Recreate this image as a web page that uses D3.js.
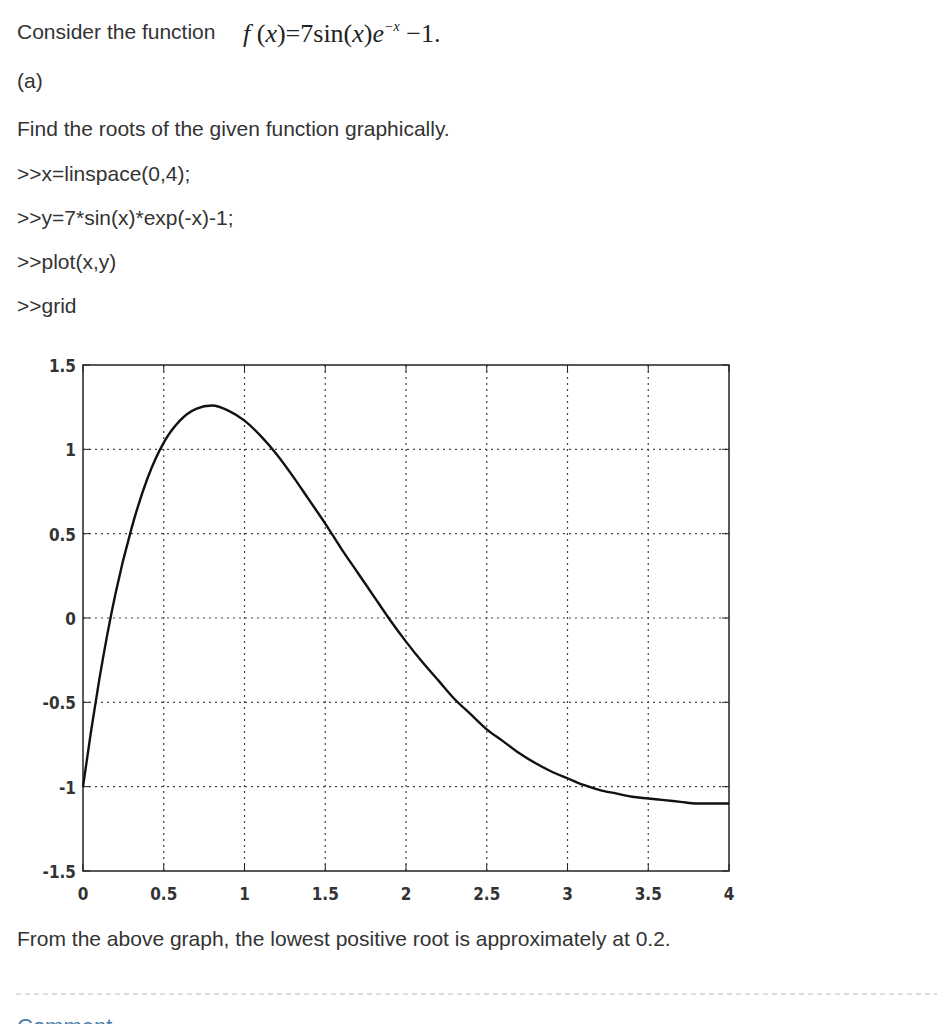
<!DOCTYPE html>
<html><head><meta charset="utf-8">
<script src="https://cdn.jsdelivr.net/npm/d3@7"></script>
<style>
body{margin:0;background:#fff;color:#333;}
</style></head><body>
<svg id="c" width="937" height="1024"></svg>
<script>
const xVals=[0,0.05,0.1,0.15,0.2,0.3,0.4,0.5,0.6,0.7,0.8,0.9,1.0,1.1,1.2,1.3,1.4,1.5,1.6,1.7,1.8,1.9,2.0,2.1,2.2,2.3,2.4,2.5,2.6,2.7,2.8,2.9,3.0,3.1,3.2,3.3,3.4,3.5,3.6,3.7,3.8,3.9,4.0];
const yVals=[-1,-0.67,-0.37,-0.10,0.14,0.53,0.83,1.04,1.17,1.24,1.26,1.23,1.17,1.08,0.97,0.84,0.70,0.56,0.41,0.27,0.13,-0.01,-0.14,-0.26,-0.37,-0.48,-0.57,-0.66,-0.73,-0.80,-0.86,-0.91,-0.95,-0.99,-1.02,-1.04,-1.06,-1.07,-1.08,-1.09,-1.10,-1.10,-1.10];
const xTicks=[0,0.5,1,1.5,2,2.5,3,3.5,4];
const yTicks=[-1.5,-1,-0.5,0,0.5,1,1.5];
const xTickLabels=["0","0.5","1","1.5","2","2.5","3","3.5","4"];
const yTickLabels=["-1.5","-1","-0.5","0","0.5","1","1.5"];
const lines=[
 {t:"(a)",y:88},
 {t:"Find the roots of the given function graphically.",y:136},
 {t:">>x=linspace(0,4);",y:181},
 {t:">>y=7*sin(x)*exp(-x)-1;",y:225},
 {t:">>plot(x,y)",y:269},
 {t:">>grid",y:313},
 {t:"From the above graph, the lowest positive root is approximately at 0.2.",y:946}
];
const SANS="Liberation Sans, Arial, sans-serif";
const svg=d3.select("#c");
svg.append("text").attr("x",17).attr("y",39).attr("font-family",SANS).attr("font-size",21).attr("fill","#333").text("Consider the function");
const m=svg.append("text").attr("x",243).attr("y",42).attr("font-family","Liberation Serif, serif").attr("font-size",26).attr("fill","#222");
m.append("tspan").attr("font-style","italic").text("f");
m.append("tspan").text(" (");
m.append("tspan").attr("font-style","italic").text("x");
m.append("tspan").text(")=7sin(");
m.append("tspan").attr("font-style","italic").text("x");
m.append("tspan").text(")");
m.append("tspan").attr("font-style","italic").text("e");
m.append("tspan").attr("font-size",14).attr("dy",-11).attr("font-style","italic").text("−x");
m.append("tspan").attr("dy",11).text(" −1.");
svg.selectAll("text.l").data(lines).join("text").attr("class","l").attr("x",17).attr("y",d=>d.y)
 .attr("font-family",SANS).attr("font-size",21).attr("fill","#333").text(d=>d.t);
svg.append("line").attr("x1",16).attr("x2",937).attr("y1",994).attr("y2",994).attr("stroke","#bbb").attr("stroke-dasharray","5,4");
svg.append("text").attr("x",17).attr("y",1034).attr("font-family",SANS).attr("font-size",22).attr("fill","#4a7eab").text("Comment");
// chart
const L=83,R=729,T=365,B=871;
const x=d3.scaleLinear().domain([0,4]).range([L,R]);
const y=d3.scaleLinear().domain([-1.5,1.5]).range([B,T]);
const g=svg.append("g");
g.selectAll("line.gx").data(xTicks.slice(1,-1)).join("line").attr("x1",d=>x(d)).attr("x2",d=>x(d)).attr("y1",T).attr("y2",B)
 .attr("stroke","#444").attr("stroke-width",1.2).attr("stroke-dasharray","2,4");
g.selectAll("line.gy").data(yTicks.slice(1,-1)).join("line").attr("y1",d=>y(d)).attr("y2",d=>y(d)).attr("x1",L).attr("x2",R)
 .attr("stroke","#444").attr("stroke-width",1.2).attr("stroke-dasharray","2,4");
g.append("rect").attr("x",L).attr("y",T).attr("width",R-L).attr("height",B-T).attr("fill","none").attr("stroke","#222").attr("stroke-width",1.5);
g.selectAll("line.tx").data(xTicks).join("line").attr("x1",d=>x(d)).attr("x2",d=>x(d)).attr("y1",B).attr("y2",B-7).attr("stroke","#222");
g.selectAll("line.tx2").data(xTicks).join("line").attr("x1",d=>x(d)).attr("x2",d=>x(d)).attr("y1",T).attr("y2",T+7).attr("stroke","#222");
g.selectAll("line.ty").data(yTicks).join("line").attr("y1",d=>y(d)).attr("y2",d=>y(d)).attr("x1",L).attr("x2",L+7).attr("stroke","#222");
g.selectAll("line.ty2").data(yTicks).join("line").attr("y1",d=>y(d)).attr("y2",d=>y(d)).attr("x1",R).attr("x2",R-7).attr("stroke","#222");
const TF="DejaVu Sans Condensed, DejaVu Sans, sans-serif";
g.selectAll("text.xl").data(xTicks).join("text").attr("x",d=>x(d)).attr("y",B+29).attr("text-anchor","middle")
 .attr("font-family",TF).attr("font-weight","bold").attr("font-size",17).attr("fill","#333")
 .text((d,i)=>xTickLabels[i]);
g.selectAll("text.yl").data(yTicks).join("text").attr("x",L-7).attr("y",d=>y(d)+7).attr("text-anchor","end")
 .attr("font-family",TF).attr("font-weight","bold").attr("font-size",17).attr("fill","#333")
 .text((d,i)=>yTickLabels[i]);
const pts=xVals.map((v,i)=>[v,yVals[i]]);
g.append("path").datum(pts).attr("d",d3.line().x(d=>x(d[0])).y(d=>y(d[1])).curve(d3.curveMonotoneX))
 .attr("fill","none").attr("stroke","#111").attr("stroke-width",2.4);
</script></body></html>
